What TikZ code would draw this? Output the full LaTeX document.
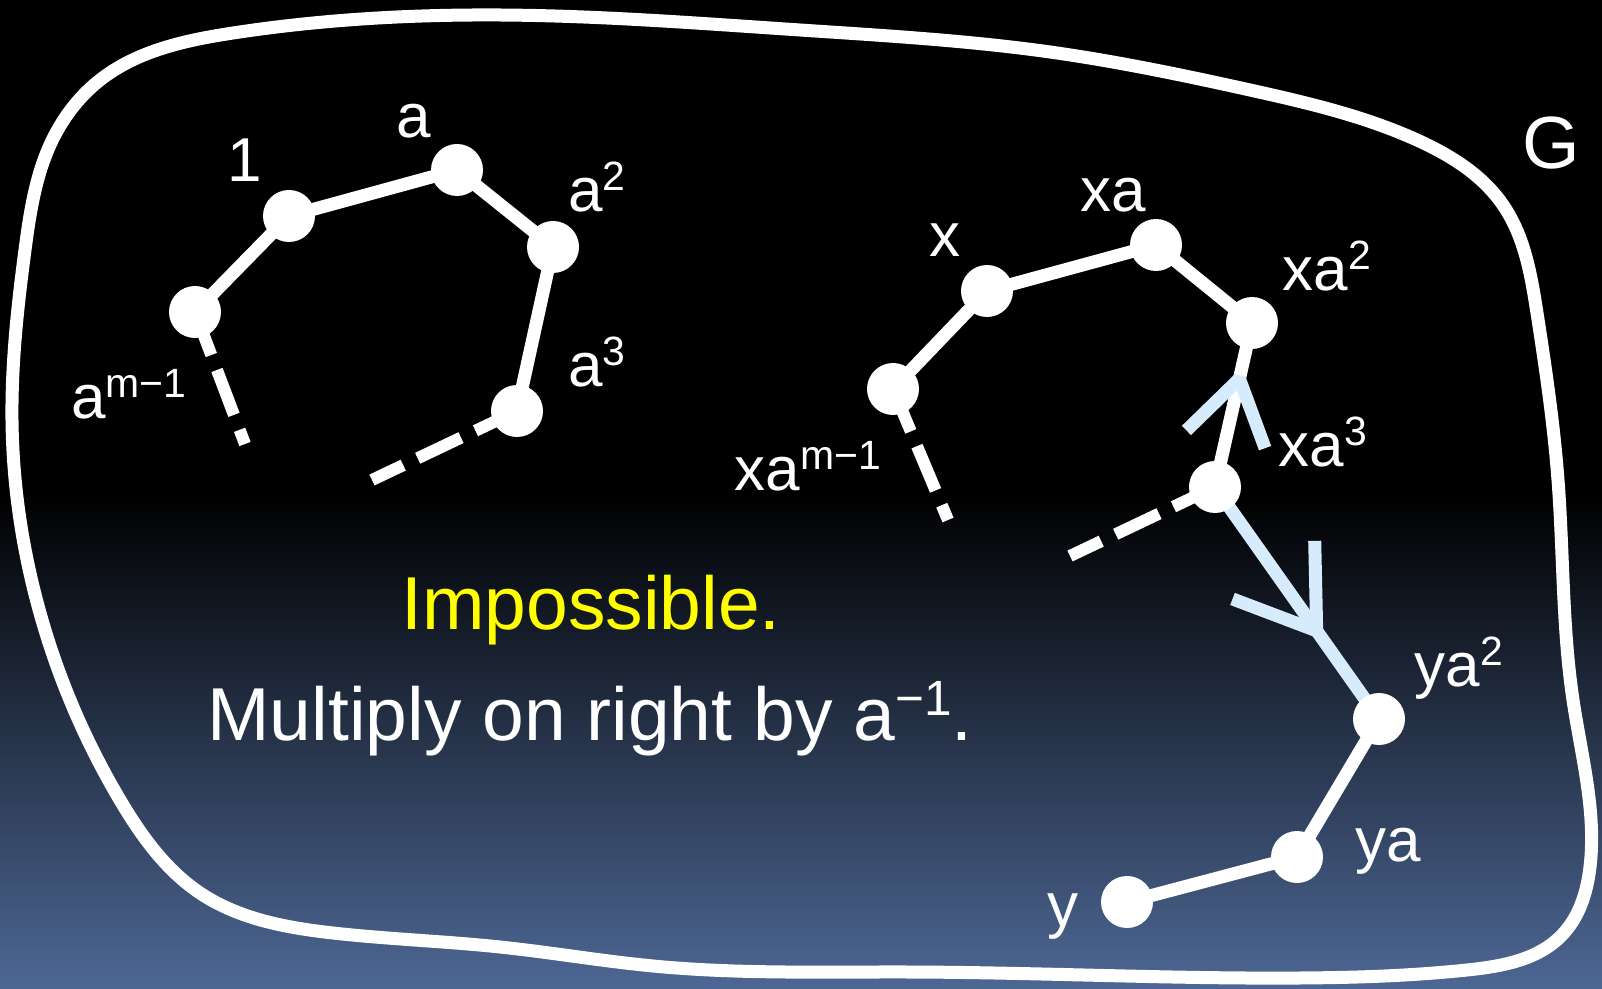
\documentclass[tikz,border=0pt]{standalone}
\usepackage{fontspec}
\setmainfont{Liberation Sans}
\usepackage{tikz}
\usetikzlibrary{calc,backgrounds,hobby}
\definecolor{GrpNight}{HTML}{4D6794}
\definecolor{GrpIce}{HTML}{D6EBFC}
\definecolor{GrpYellow}{HTML}{FFFF00}
\newcommand\pw[1]{\raisebox{0.33em}{\scalebox{0.66}{#1}}}

\begin{document}
\begin{tikzpicture}[x=0.5pt,y=-0.5pt,
    every node/.style={text=white,inner sep=0pt,font=\fontsize{31}{31}\selectfont},
    dot/.style={circle,fill=white,minimum size=26pt},
    link/.style={white,line width=6.5pt},
    dashlink/.style={white,line width=6pt,dash pattern=on 23pt off 8pt on 24pt off 8pt on 30pt off 100pt},
    icelink/.style={GrpIce,line width=6.5pt},
    icehead/.style={GrpIce,line width=6.5pt,line join=bevel}]
    \useasboundingbox (0,0) rectangle (1602,989);
    % left cycle
    \node[dot] (nam) at (195,312) {};
    \node[dot] (n1) at (289,216) {};
    \node[dot] (na) at (457,170) {};
    \node[dot] (na2) at (553,247) {};
    \node[dot] (na3) at (517,411) {};
    \coordinate (namend) at (245,444);
    \coordinate (na3end) at (372,480);
    % right cycle
    \node[dot] (nxam) at (893,389) {};
    \node[dot] (nx) at (987,291) {};
    \node[dot] (nxa) at (1156,245) {};
    \node[dot] (nxa2) at (1252,323) {};
    \node[dot] (nxa3) at (1215,487) {};
    \node[dot] (nya2) at (1379,719) {};
    \node[dot] (nya) at (1297,857) {};
    \node[dot] (ny) at (1127,902) {};
    \coordinate (nxamend) at (948,520);
    \coordinate (nxa3end) at (1070,556);
    % labels
    \node (l1) at (245,160) {1};
    \node (la) at (414,121) {a};
    \node (la2) at (597,187) {a\pw{2}};
    \node (la3) at (597,362) {a\pw{3}};
    \node (lam) at (129,394) {a\pw{m−1}};
    \node (lx) at (945,240) {x};
    \node (lxa) at (1113,195) {xa};
    \node (lxa2) at (1327,266) {xa\pw{2}};
    \node (lxa3) at (1323,442) {xa\pw{3}};
    \node (lxam) at (808,466) {xa\pw{m−1}};
    \node (lya2) at (1459,668) {ya\pw{2}};
    \node (lya) at (1388,851) {ya};
    \node (ly) at (1063,917) {y};
    \node[font=\fontsize{37}{37}\selectfont] (group) at (1551,143) {G};
    \node[text=GrpYellow,font=\fontsize{37.5}{37.5}\selectfont] (impossible) at (591,610) {Impossible.};
    \node[font=\fontsize{37.5}{37.5}\selectfont] (multiply) at (590,719) {Multiply on right by a\pw{−1}.};
    \begin{scope}[on background layer]
      \shade[top color=black,bottom color=GrpNight,middle color=black] (0,0) rectangle (1602,989);
      \draw[white,line width=6.5pt,use Hobby shortcut,closed=true]
        (100,80) .. (233,33) .. (500,15) .. (800,30) .. (1050,52) .. (1250,90) .. (1417,140)
        .. (1503,205) .. (1537,313) .. (1558,480) .. (1573,700) .. (1590,867) .. (1562,935)
        .. (1467,970) .. (1300,978) .. (908,972) .. (653,966) .. (500,947) .. (333,933)
        .. (200,893) .. (120,800) .. (42,620) .. (12,420) .. (25,250) .. (50,145);
      \draw[link] (nam.center) -- (n1.center) -- (na.center) -- (na2.center) -- (na3.center);
      \draw[dashlink] (nam.center) -- (namend);
      \draw[dashlink] (na3.center) -- (na3end);
      \draw[link] (nxam.center) -- (nx.center) -- (nxa.center) -- (nxa2.center) -- (nxa3.center);
      \draw[dashlink] (nxam.center) -- (nxamend);
      \draw[dashlink] (nxa3.center) -- (nxa3end);
      \draw[icelink] (nxa3.center) -- (nya2.center);
      \draw[link] (nya2.center) -- (nya.center) -- (ny.center);
    \end{scope}
    % arrowheads
    \coordinate (tipup) at ($(nxa2)!0.34!(nxa3)$);
    \coordinate (tipdown) at ($(nxa3)!0.62!(nya2)$);
    \draw[icehead] ($(tipup)!37pt!33:(nxa3)$) -- (tipup) -- ($(tipup)!37pt!-33:(nxa3)$);
    \draw[icehead] ($(tipdown)!45pt!34:(nxa3)$) -- (tipdown) -- ($(tipdown)!45pt!-34:(nxa3)$);
  \end{tikzpicture}
\end{document}
